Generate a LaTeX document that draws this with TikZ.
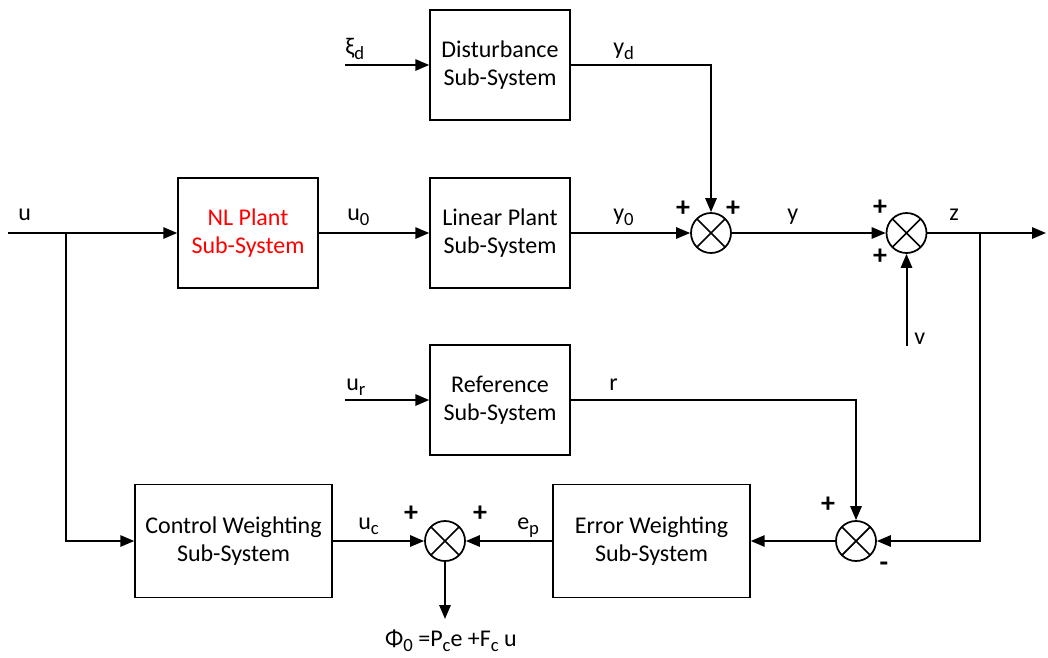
\documentclass[tikz,border=0pt]{standalone}
\usepackage{fontspec}
\setmainfont{Carlito}
\usetikzlibrary{positioning,arrows.meta}

% lowered subscript in text
\newcommand{\lo}[1]{\raisebox{-0.45ex}{\fontsize{14}{14}\selectfont #1}}

\begin{document}
\begin{tikzpicture}[x=0.75pt,y=-0.75pt,
  txt/.style={font=\fontsize{18}{21}\selectfont},
  block/.style={txt, draw, line width=1.1pt, minimum width=105pt, minimum height=82.5pt, align=center},
  wblock/.style={block, minimum width=147.75pt, minimum height=84.75pt},
  sumnode/.style={draw, circle, line width=1.3pt, minimum size=30pt, inner sep=0pt,
    path picture={\draw[line width=1.3pt] (path picture bounding box.south west) -- (path picture bounding box.north east)
      (path picture bounding box.north west) -- (path picture bounding box.south east);}},
  sig/.style={line width=1.5pt, -{Triangle[length=10.5pt,width=8.5pt]}},
  lbl/.style={txt, inner sep=0pt, anchor=base west},
  sgn/.style={font=\fontsize{21}{21}\selectfont\bfseries, inner sep=0pt}]
  \useasboundingbox (0,0) rectangle (1048,657);

  % Blocks
  \node[block] (dist) at (500,65) {Disturbance\\Sub-System};
  \node[block, text=red] (nlp) at (248,233) {NL Plant\\Sub-System};
  \node[block] (lin) at (500,233) {Linear Plant\\Sub-System};
  \node[block] (ref) at (500,400) {Reference\\Sub-System};
  \node[wblock] (cw) at (233.5,541) {Control Weighting\\Sub-System};
  \node[wblock] (ew) at (651.5,541) {Error Weighting\\Sub-System};

  % Summing junctions
  \node[sumnode] (s1) at (711,233) {};
  \node[sumnode] (s2) at (906.5,233) {};
  \node[sumnode] (s3) at (856,541) {};
  \node[sumnode] (s4) at (445,541) {};

  % Free ends and branch points
  \coordinate (uin) at (8,233);
  \coordinate (ubr) at (66,233);
  \coordinate (zbr) at (980,233);
  \coordinate (zout) at (1046,233);
  \coordinate (vin) at (906.5,346);
  \coordinate (xin) at (345,65);
  \coordinate (urin) at (345,400);
  \coordinate (phi) at (445,619);

  % Signals
  \draw[sig] (uin) -- (nlp);
  \draw[sig] (ubr) |- (cw);
  \draw[sig] (nlp) -- (lin);
  \draw[sig] (lin) -- (s1);
  \draw[sig] (xin) -- (dist);
  \draw[sig] (dist) -| (s1);
  \draw[sig] (s1) -- (s2);
  \draw[sig] (s2) -- (zout);
  \draw[sig] (vin) -- (s2);
  \draw[sig] (zbr) |- (s3);
  \draw[sig] (urin) -- (ref);
  \draw[sig] (ref) -| (s3);
  \draw[sig] (s3) -- (ew);
  \draw[sig] (ew) -- (s4);
  \draw[sig] (cw) -- (s4);
  \draw[sig] (s4) -- (phi);

  % Signal labels
  \node[lbl] (lu) at (18,220) {u};
  \node[lbl] (lu0) at (347,220) {u\lo{0}};
  \node[lbl] (ly0) at (613,220) {y\lo{0}};
  \node[lbl] (ly) at (787,220) {y};
  \node[lbl] (lz) at (949,220) {z};
  \node[lbl] (lxi) at (345,54) {ξ\lo{d}};
  \node[lbl] (lyd) at (613,54) {y\lo{d}};
  \node[lbl] (lur) at (346,390) {u\lo{r}};
  \node[lbl] (lr) at (609,390) {r};
  \node[lbl] (luc) at (358,529) {u\lo{c}};
  \node[lbl] (lep) at (517,529) {e\lo{p}};
  \node[lbl] (lv) at (914,344) {v};
  \node[lbl, anchor=base] (lphi) at (451,646) {Φ\lo{0} =P\lo{c}e +F\lo{c} u};

  % Signs
  \node[sgn] (p1) at (683,209) {+};
  \node[sgn] (p2) at (733,209) {+};
  \node[sgn] (p3) at (880,208) {+};
  \node[sgn] (p4) at (880,257) {+};
  \node[sgn] (p5) at (828,505) {+};
  \node[sgn] (m5) at (884,567) {-};
  \node[sgn] (p6) at (411,514) {+};
  \node[sgn] (p7) at (480,514) {+};
\end{tikzpicture}
\end{document}
